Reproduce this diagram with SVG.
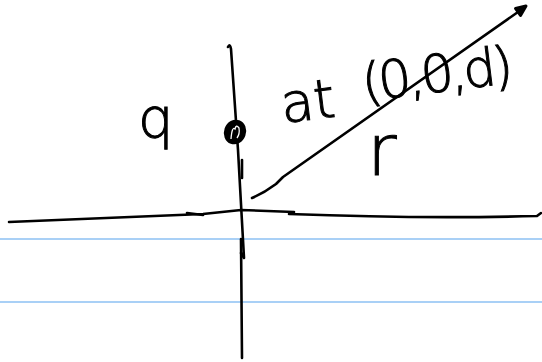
<svg xmlns="http://www.w3.org/2000/svg" width="542" height="362" viewBox="0 0 542 362">
<style>
.ink{fill:none;stroke:#000;stroke-width:2.6;stroke-linecap:round;stroke-linejoin:round}
.rule{stroke:#a9d0f6;stroke-width:2}
.lbl{font-family:"DejaVu Sans","Liberation Sans",sans-serif;font-weight:200;fill:#000;stroke:#000;stroke-width:1}
</style>
<rect width="542" height="362" fill="#fff"/>
<g id="ruled-lines">
<line class="rule" x1="0" y1="239" x2="542" y2="239"/>
<line class="rule" x1="0" y1="302" x2="542" y2="302"/>
</g>
<g id="axes">
<path class="ink" d="M9,222 Q140,217 203,214 L241,210 L294,212"/>
<path class="ink" d="M187,213 L203,215"/>
<path class="ink" d="M289,214 Q420,219 537,216 L541,213"/>
<path class="ink" d="M228,47 Q230,43 231,49 L238,150 L243,240 L244,258 L241,253"/>
<path class="ink" d="M242,160 L242,178"/>
<path class="ink" d="M241,239 L242,358"/>
</g>
<g id="charge">
<ellipse cx="235" cy="132" rx="11" ry="12.5" transform="rotate(20 235 132)" fill="#000"/>
<path d="M231,139 Q232,126 235,129 Q236,124 239,128 Q240,134 237,138" fill="none" stroke="#fff" stroke-width="1.3"/>
</g>
<g id="connectors">
<path class="ink" d="M252,198 Q264,193 276,184 L283,177 L518,12"/>
<polygon points="526,6 515.5,8.5 520.5,15.5" fill="#000" stroke="#000" stroke-width="3" stroke-linejoin="round"/>
</g>
<g id="label-q">
<text class="lbl" x="138" y="137" font-size="56">q</text>
</g>
<g id="label-at">
<text class="lbl" transform="rotate(-7 283 123)"><tspan x="283" y="123" font-size="54">at</tspan><tspan x="366" y="111" font-size="52" textLength="152" lengthAdjust="spacing">(0,0,d)</tspan></text>
</g>
<g id="label-r">
<text class="lbl" x="367" y="175" font-size="72">r</text>
</g>
</svg>
